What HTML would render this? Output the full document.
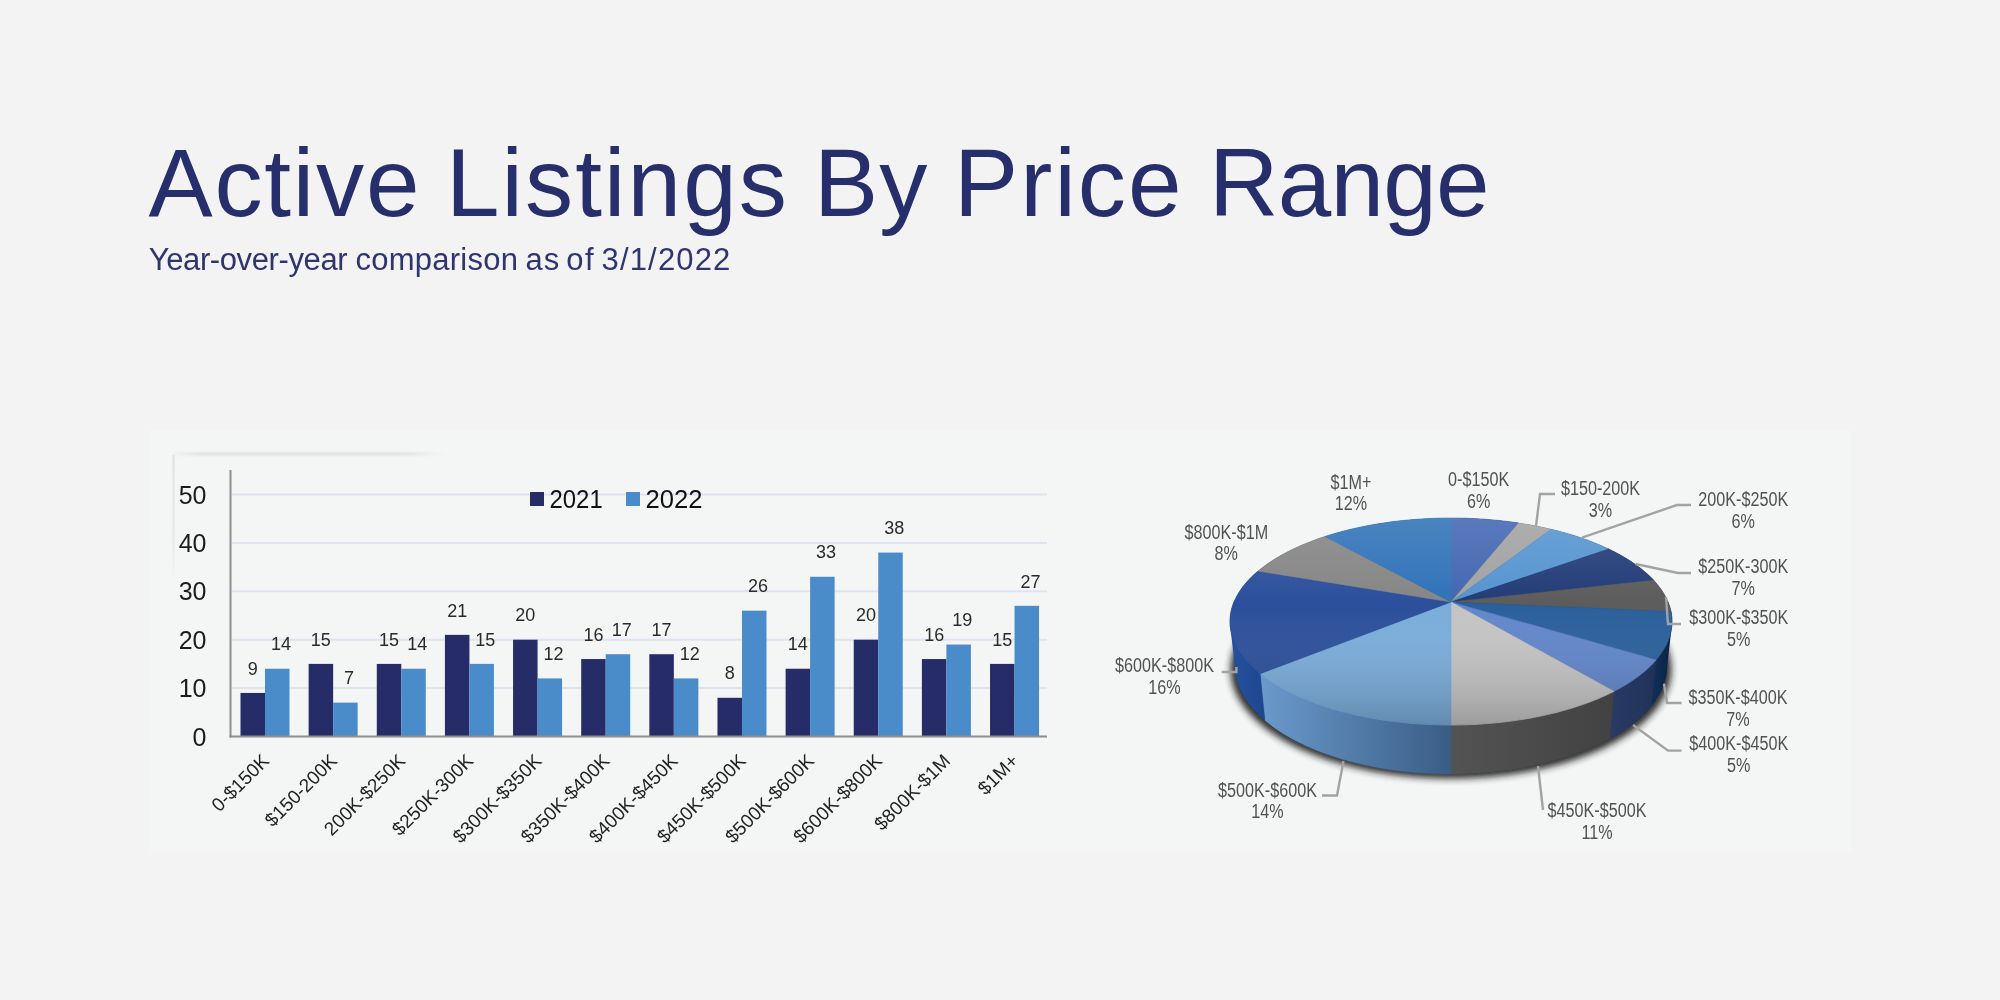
<!DOCTYPE html>
<html><head><meta charset="utf-8"><title>Active Listings By Price Range</title>
<style>
html,body{margin:0;padding:0;background:#f3f3f3;}
body{width:2000px;height:1000px;overflow:hidden;position:relative;font-family:'Liberation Sans', sans-serif;}
svg{position:absolute;left:0;top:0;will-change:transform;}
</style></head><body>
<svg width="2000" height="1000" viewBox="0 0 2000 1000" font-family="'Liberation Sans', sans-serif">
<defs>
<filter id="blur4" x="-20%" y="-20%" width="140%" height="140%"><feGaussianBlur stdDeviation="3.5"/></filter>
<filter id="blur1" x="-20%" y="-20%" width="140%" height="140%"><feGaussianBlur stdDeviation="1"/></filter>
<filter id="blur2" x="-20%" y="-20%" width="140%" height="140%"><feGaussianBlur stdDeviation="2"/></filter>
<linearGradient id="topshade" gradientUnits="userSpaceOnUse" x1="0" y1="518" x2="0" y2="725">
<stop offset="0" stop-color="#ffffff" stop-opacity="0.13"/>
<stop offset="0.42" stop-color="#ffffff" stop-opacity="0"/>
<stop offset="1" stop-color="#000000" stop-opacity="0.2"/>
</linearGradient>
</defs>
<rect x="0" y="0" width="2000" height="1000" fill="#f3f3f3"/>

<rect x="150" y="430" width="1701" height="422" fill="#f4f5f5"/>
<linearGradient id="tsh" x1="0" y1="0" x2="1" y2="0"><stop offset="0" stop-color="#dfe0e0" stop-opacity="0.3"/><stop offset="0.1" stop-color="#dfe0e0"/><stop offset="0.85" stop-color="#dfe0e0"/><stop offset="1" stop-color="#dfe0e0" stop-opacity="0"/></linearGradient>
<linearGradient id="lsh" x1="0" y1="0" x2="0" y2="1"><stop offset="0" stop-color="#dfe0e0"/><stop offset="0.7" stop-color="#e6e7e7"/><stop offset="1" stop-color="#eeefef" stop-opacity="0"/></linearGradient>
<rect x="174" y="452.5" width="272" height="3" fill="url(#tsh)" filter="url(#blur1)"/>
<rect x="172.5" y="455" width="2" height="130" fill="url(#lsh)"/>
<rect x="174.5" y="455.5" width="600" height="400" fill="#f5f6f6" opacity="0.0"/>
<text x="148.5" y="216" font-size="96.2" fill="#262e6b" letter-spacing="1.8">Active</text>
<text x="446" y="216" font-size="96.2" fill="#262e6b" letter-spacing="2.1">Listings</text>
<text x="814" y="216" font-size="96.2" fill="#262e6b" letter-spacing="1.1">By</text>
<text x="954" y="216" font-size="96.2" fill="#262e6b" letter-spacing="2.1">Price</text>
<text x="1209" y="216" font-size="96.2" fill="#262e6b" letter-spacing="-0.75">Range</text>
<text x="148.75" y="269.5" font-size="31" fill="#2e3570" letter-spacing="-0.39">Year-over-year</text>
<text x="355.5" y="269.5" font-size="31" fill="#2e3570" letter-spacing="0.24">comparison</text>
<text x="525.5" y="269.5" font-size="31" fill="#2e3570" letter-spacing="1.07">as</text>
<text x="566.2" y="269.5" font-size="31" fill="#2e3570" letter-spacing="1.57">of</text>
<text x="601.5" y="269.5" font-size="31" fill="#2e3570" letter-spacing="1.17">3/1/2022</text>
<line x1="231.5" y1="688.1" x2="1047" y2="688.1" stroke="#dfe3ee" stroke-width="2"/>
<line x1="231.5" y1="639.7" x2="1047" y2="639.7" stroke="#dfe3ee" stroke-width="2"/>
<line x1="231.5" y1="591.3" x2="1047" y2="591.3" stroke="#dfe3ee" stroke-width="2"/>
<line x1="231.5" y1="542.9" x2="1047" y2="542.9" stroke="#dfe3ee" stroke-width="2"/>
<line x1="231.5" y1="494.5" x2="1047" y2="494.5" stroke="#dfe3ee" stroke-width="2"/>
<rect x="240.50" y="692.94" width="24.5" height="43.56" fill="#252c68"/>
<rect x="265.00" y="668.74" width="24.5" height="67.76" fill="#4a8bc9"/>
<text x="252.75" y="674.64" font-size="18" fill="#2a2a2a" text-anchor="middle">9</text>
<text x="280.95" y="650.44" font-size="18" fill="#2a2a2a" text-anchor="middle">14</text>
<rect x="308.64" y="663.90" width="24.5" height="72.60" fill="#252c68"/>
<rect x="333.14" y="702.62" width="24.5" height="33.88" fill="#4a8bc9"/>
<text x="320.89" y="645.60" font-size="18" fill="#2a2a2a" text-anchor="middle">15</text>
<text x="349.09" y="684.32" font-size="18" fill="#2a2a2a" text-anchor="middle">7</text>
<rect x="376.78" y="663.90" width="24.5" height="72.60" fill="#252c68"/>
<rect x="401.28" y="668.74" width="24.5" height="67.76" fill="#4a8bc9"/>
<text x="389.03" y="645.60" font-size="18" fill="#2a2a2a" text-anchor="middle">15</text>
<text x="417.23" y="650.44" font-size="18" fill="#2a2a2a" text-anchor="middle">14</text>
<rect x="444.92" y="634.86" width="24.5" height="101.64" fill="#252c68"/>
<rect x="469.42" y="663.90" width="24.5" height="72.60" fill="#4a8bc9"/>
<text x="457.17" y="616.56" font-size="18" fill="#2a2a2a" text-anchor="middle">21</text>
<text x="485.37" y="645.60" font-size="18" fill="#2a2a2a" text-anchor="middle">15</text>
<rect x="513.06" y="639.70" width="24.5" height="96.80" fill="#252c68"/>
<rect x="537.56" y="678.42" width="24.5" height="58.08" fill="#4a8bc9"/>
<text x="525.31" y="621.40" font-size="18" fill="#2a2a2a" text-anchor="middle">20</text>
<text x="553.51" y="660.12" font-size="18" fill="#2a2a2a" text-anchor="middle">12</text>
<rect x="581.20" y="659.06" width="24.5" height="77.44" fill="#252c68"/>
<rect x="605.70" y="654.22" width="24.5" height="82.28" fill="#4a8bc9"/>
<text x="593.45" y="640.76" font-size="18" fill="#2a2a2a" text-anchor="middle">16</text>
<text x="621.65" y="635.92" font-size="18" fill="#2a2a2a" text-anchor="middle">17</text>
<rect x="649.34" y="654.22" width="24.5" height="82.28" fill="#252c68"/>
<rect x="673.84" y="678.42" width="24.5" height="58.08" fill="#4a8bc9"/>
<text x="661.59" y="635.92" font-size="18" fill="#2a2a2a" text-anchor="middle">17</text>
<text x="689.79" y="660.12" font-size="18" fill="#2a2a2a" text-anchor="middle">12</text>
<rect x="717.48" y="697.78" width="24.5" height="38.72" fill="#252c68"/>
<rect x="741.98" y="610.66" width="24.5" height="125.84" fill="#4a8bc9"/>
<text x="729.73" y="679.48" font-size="18" fill="#2a2a2a" text-anchor="middle">8</text>
<text x="757.93" y="592.36" font-size="18" fill="#2a2a2a" text-anchor="middle">26</text>
<rect x="785.62" y="668.74" width="24.5" height="67.76" fill="#252c68"/>
<rect x="810.12" y="576.78" width="24.5" height="159.72" fill="#4a8bc9"/>
<text x="797.87" y="650.44" font-size="18" fill="#2a2a2a" text-anchor="middle">14</text>
<text x="826.07" y="558.48" font-size="18" fill="#2a2a2a" text-anchor="middle">33</text>
<rect x="853.76" y="639.70" width="24.5" height="96.80" fill="#252c68"/>
<rect x="878.26" y="552.58" width="24.5" height="183.92" fill="#4a8bc9"/>
<text x="866.01" y="621.40" font-size="18" fill="#2a2a2a" text-anchor="middle">20</text>
<text x="894.21" y="534.28" font-size="18" fill="#2a2a2a" text-anchor="middle">38</text>
<rect x="921.90" y="659.06" width="24.5" height="77.44" fill="#252c68"/>
<rect x="946.40" y="644.54" width="24.5" height="91.96" fill="#4a8bc9"/>
<text x="934.15" y="640.76" font-size="18" fill="#2a2a2a" text-anchor="middle">16</text>
<text x="962.35" y="626.24" font-size="18" fill="#2a2a2a" text-anchor="middle">19</text>
<rect x="990.04" y="663.90" width="24.5" height="72.60" fill="#252c68"/>
<rect x="1014.54" y="605.82" width="24.5" height="130.68" fill="#4a8bc9"/>
<text x="1002.29" y="645.60" font-size="18" fill="#2a2a2a" text-anchor="middle">15</text>
<text x="1030.49" y="587.52" font-size="18" fill="#2a2a2a" text-anchor="middle">27</text>
<line x1="230.5" y1="470" x2="230.5" y2="737.5" stroke="#8e8e8e" stroke-width="2"/>
<line x1="229.5" y1="736.5" x2="1047" y2="736.5" stroke="#8e8e8e" stroke-width="2"/>
<text x="206.5" y="745.5" font-size="25" fill="#1c1c1c" text-anchor="end">0</text>
<text x="206.5" y="697.1" font-size="25" fill="#1c1c1c" text-anchor="end">10</text>
<text x="206.5" y="648.7" font-size="25" fill="#1c1c1c" text-anchor="end">20</text>
<text x="206.5" y="600.3" font-size="25" fill="#1c1c1c" text-anchor="end">30</text>
<text x="206.5" y="551.9" font-size="25" fill="#1c1c1c" text-anchor="end">40</text>
<text x="206.5" y="503.5" font-size="25" fill="#1c1c1c" text-anchor="end">50</text>
<rect x="530" y="492" width="14" height="14" fill="#252c68"/>
<g transform="translate(549.5,507.8) scale(0.92,1)"><text x="0" y="0" font-size="26" fill="#111">2021</text></g>
<rect x="626" y="492" width="14" height="14" fill="#4a8bc9"/>
<g transform="translate(645.5,507.8) scale(0.985,1)"><text x="0" y="0" font-size="26" fill="#111">2022</text></g>
<text transform="translate(270.1,762) rotate(-45)" font-size="19" fill="#222" text-anchor="end">0-$150K</text>
<text transform="translate(338.2,762) rotate(-45)" font-size="19" fill="#222" text-anchor="end">$150-200K</text>
<text transform="translate(406.4,762) rotate(-45)" font-size="19" fill="#222" text-anchor="end">200K-$250K</text>
<text transform="translate(474.5,762) rotate(-45)" font-size="19" fill="#222" text-anchor="end">$250K-300K</text>
<text transform="translate(542.6,762) rotate(-45)" font-size="19" fill="#222" text-anchor="end">$300K-$350K</text>
<text transform="translate(610.8,762) rotate(-45)" font-size="19" fill="#222" text-anchor="end">$350K-$400K</text>
<text transform="translate(678.9,762) rotate(-45)" font-size="19" fill="#222" text-anchor="end">$400K-$450K</text>
<text transform="translate(747.0,762) rotate(-45)" font-size="19" fill="#222" text-anchor="end">$450K-$500K</text>
<text transform="translate(815.2,762) rotate(-45)" font-size="19" fill="#222" text-anchor="end">$500K-$600K</text>
<text transform="translate(883.3,762) rotate(-45)" font-size="19" fill="#222" text-anchor="end">$600K-$800K</text>
<text transform="translate(951.5,762) rotate(-45)" font-size="19" fill="#222" text-anchor="end">$800K-$1M</text>
<text transform="translate(1019.6,762) rotate(-45)" font-size="19" fill="#222" text-anchor="end">$1M+</text>
<polygon points="1451.00,560.04 1452.60,560.05 1454.19,560.06 1455.79,560.07 1457.38,560.09 1458.98,560.12 1460.57,560.15 1462.17,560.18 1463.76,560.23 1465.35,560.28 1466.95,560.33 1468.54,560.39 1470.13,560.46 1471.72,560.53 1473.31,560.61 1474.90,560.69 1476.49,560.78 1478.07,560.87 1479.66,560.97 1481.24,561.08 1482.83,561.19 1484.41,561.31 1485.99,561.43 1487.57,561.56 1489.15,561.69 1490.72,561.83 1492.30,561.98 1493.87,562.13 1495.44,562.29 1497.01,562.45 1498.58,562.62 1500.14,562.80 1501.71,562.98 1503.27,563.16 1504.83,563.35 1506.38,563.55 1507.94,563.75 1509.49,563.96 1511.04,564.18 1512.59,564.40 1514.13,564.62 1515.67,564.85 1517.21,565.09 1518.75,565.34 1520.28,565.58 1521.81,565.84 1523.34,566.10 1524.87,566.36 1526.39,566.64 1527.91,566.91 1529.42,567.20 1530.93,567.48 1532.44,567.78 1533.95,568.08 1535.45,568.38 1536.94,568.70 1538.44,569.01 1539.93,569.33 1541.41,569.66 1542.90,570.00 1544.37,570.34 1545.85,570.68 1547.32,571.03 1548.78,571.39 1550.25,571.75 1551.70,572.12 1553.16,572.49 1554.60,572.87 1556.05,573.26 1557.49,573.65 1558.92,574.04 1560.35,574.44 1561.77,574.85 1563.19,575.26 1564.61,575.68 1566.01,576.10 1567.42,576.53 1568.82,576.97 1570.21,577.41 1571.60,577.86 1572.98,578.31 1574.36,578.76 1575.73,579.23 1577.09,579.69 1578.45,580.17 1579.80,580.65 1581.15,581.13 1582.49,581.62 1583.82,582.12 1585.15,582.62 1586.47,583.13 1587.79,583.64 1589.10,584.16 1590.40,584.68 1591.70,585.21 1592.98,585.74 1594.27,586.28 1595.54,586.83 1596.81,587.38 1598.07,587.93 1599.32,588.49 1600.57,589.06 1601.81,589.63 1603.04,590.21 1604.26,590.79 1605.48,591.38 1606.68,591.97 1607.88,592.57 1609.08,593.18 1610.26,593.78 1611.43,594.40 1612.60,595.02 1613.76,595.64 1614.91,596.27 1616.05,596.91 1617.19,597.55 1618.31,598.19 1619.43,598.84 1620.53,599.50 1621.63,600.16 1622.72,600.83 1623.80,601.50 1624.87,602.17 1625.93,602.85 1626.98,603.54 1628.03,604.23 1629.06,604.93 1630.08,605.63 1631.09,606.33 1632.09,607.05 1633.09,607.76 1634.07,608.48 1635.04,609.21 1636.00,609.94 1636.95,610.67 1637.89,611.41 1638.82,612.16 1639.74,612.91 1640.65,613.66 1641.55,614.42 1642.43,615.18 1643.31,615.95 1644.17,616.72 1645.02,617.50 1645.86,618.28 1646.69,619.07 1647.51,619.86 1648.31,620.65 1649.11,621.45 1649.89,622.26 1650.66,623.06 1651.41,623.88 1652.16,624.69 1652.89,625.51 1653.61,626.34 1654.32,627.17 1655.01,628.00 1655.69,628.84 1656.36,629.68 1657.02,630.52 1657.66,631.37 1658.29,632.23 1658.90,633.08 1659.50,633.95 1660.09,634.81 1660.66,635.68 1661.23,636.55 1661.77,637.43 1662.30,638.31 1662.82,639.19 1663.33,640.08 1663.82,640.97 1664.29,641.86 1664.75,642.76 1665.20,643.66 1665.63,644.56 1666.05,645.47 1666.45,646.38 1666.83,647.29 1667.21,648.21 1667.56,649.13 1667.90,650.05 1668.23,650.97 1668.54,651.90 1668.83,652.83 1669.11,653.77 1669.37,654.70 1669.62,655.64 1669.85,656.58 1670.06,657.53 1670.26,658.47 1670.44,659.42 1670.61,660.37 1670.76,661.32 1670.89,662.28 1671.00,663.24 1671.10,664.20 1671.18,665.16 1671.25,666.12 1671.29,667.09 1671.32,668.05 1671.34,669.02 1671.33,669.99 1671.31,670.96 1671.27,671.94 1671.21,672.91 1671.14,673.89 1671.05,674.86 1670.94,675.84 1670.81,676.82 1670.66,677.80 1670.50,678.78 1670.32,679.76 1670.12,680.75 1669.90,681.73 1669.66,682.71 1669.40,683.70 1669.13,684.68 1668.84,685.67 1668.53,686.65 1668.19,687.64 1667.85,688.62 1667.48,689.61 1667.09,690.60 1666.69,691.58 1666.26,692.56 1665.82,693.55 1665.36,694.53 1664.87,695.52 1664.37,696.50 1663.85,697.48 1663.31,698.46 1662.76,699.44 1662.18,700.42 1661.58,701.40 1660.96,702.37 1660.33,703.35 1659.67,704.32 1659.00,705.30 1658.30,706.27 1657.59,707.23 1656.86,708.20 1656.10,709.16 1655.33,710.13 1654.54,711.09 1653.72,712.04 1652.89,713.00 1652.04,713.95 1651.17,714.90 1650.28,715.85 1649.37,716.80 1648.44,717.74 1647.49,718.68 1646.52,719.61 1645.53,720.54 1644.53,721.47 1643.50,722.40 1642.45,723.32 1641.39,724.23 1640.30,725.15 1639.19,726.06 1638.07,726.96 1636.93,727.86 1635.76,728.76 1634.58,729.65 1633.38,730.54 1632.16,731.43 1630.92,732.30 1629.66,733.18 1628.38,734.05 1627.08,734.91 1625.77,735.77 1624.43,736.62 1623.08,737.47 1621.71,738.31 1620.32,739.15 1618.91,739.98 1617.48,740.80 1616.04,741.62 1614.57,742.43 1613.09,743.24 1611.59,744.03 1610.08,744.83 1608.54,745.61 1606.99,746.39 1605.42,747.17 1603.83,747.93 1602.22,748.69 1600.60,749.44 1598.96,750.18 1597.31,750.92 1595.63,751.65 1593.94,752.37 1592.24,753.08 1590.52,753.79 1588.78,754.49 1587.02,755.18 1585.25,755.86 1583.47,756.53 1581.67,757.20 1579.85,757.85 1578.02,758.50 1576.17,759.14 1574.31,759.77 1572.43,760.39 1570.54,761.00 1568.64,761.60 1566.72,762.20 1564.79,762.78 1562.84,763.36 1560.88,763.92 1558.91,764.48 1556.92,765.03 1554.92,765.56 1552.91,766.09 1550.89,766.61 1548.85,767.11 1546.80,767.61 1544.74,768.10 1542.67,768.57 1540.59,769.04 1538.49,769.49 1536.39,769.94 1534.27,770.37 1532.15,770.80 1530.01,771.21 1527.87,771.61 1525.71,772.00 1523.55,772.38 1521.37,772.75 1519.19,773.11 1517.00,773.46 1514.80,773.79 1512.60,774.12 1510.38,774.43 1508.16,774.73 1505.93,775.02 1503.69,775.30 1501.45,775.57 1499.20,775.83 1496.95,776.07 1494.69,776.30 1492.42,776.53 1490.15,776.73 1487.87,776.93 1485.59,777.12 1483.30,777.29 1481.01,777.45 1478.72,777.60 1476.42,777.74 1474.12,777.87 1471.82,777.98 1469.51,778.09 1467.20,778.18 1464.89,778.26 1462.58,778.32 1460.26,778.38 1457.95,778.42 1455.63,778.45 1453.32,778.47 1451.00,778.47 1448.68,778.47 1446.37,778.45 1444.05,778.42 1441.74,778.38 1439.42,778.32 1437.11,778.26 1434.80,778.18 1432.49,778.09 1430.18,777.98 1427.88,777.87 1425.58,777.74 1423.28,777.60 1420.99,777.45 1418.70,777.29 1416.41,777.12 1414.13,776.93 1411.85,776.73 1409.58,776.53 1407.31,776.30 1405.05,776.07 1402.80,775.83 1400.55,775.57 1398.31,775.30 1396.07,775.02 1393.84,774.73 1391.62,774.43 1389.40,774.12 1387.20,773.79 1385.00,773.46 1382.81,773.11 1380.63,772.75 1378.45,772.38 1376.29,772.00 1374.13,771.61 1371.99,771.21 1369.85,770.80 1367.73,770.37 1365.61,769.94 1363.51,769.49 1361.41,769.04 1359.33,768.57 1357.26,768.10 1355.20,767.61 1353.15,767.11 1351.11,766.61 1349.09,766.09 1347.08,765.56 1345.08,765.03 1343.09,764.48 1341.12,763.92 1339.16,763.36 1337.21,762.78 1335.28,762.20 1333.36,761.60 1331.46,761.00 1329.57,760.39 1327.69,759.77 1325.83,759.14 1323.98,758.50 1322.15,757.85 1320.33,757.20 1318.53,756.53 1316.75,755.86 1314.98,755.18 1313.22,754.49 1311.48,753.79 1309.76,753.08 1308.06,752.37 1306.37,751.65 1304.69,750.92 1303.04,750.18 1301.40,749.44 1299.78,748.69 1298.17,747.93 1296.58,747.17 1295.01,746.39 1293.46,745.61 1291.92,744.83 1290.41,744.03 1288.91,743.24 1287.43,742.43 1285.96,741.62 1284.52,740.80 1283.09,739.98 1281.68,739.15 1280.29,738.31 1278.92,737.47 1277.57,736.62 1276.23,735.77 1274.92,734.91 1273.62,734.05 1272.34,733.18 1271.08,732.30 1269.84,731.43 1268.62,730.54 1267.42,729.65 1266.24,728.76 1265.07,727.86 1263.93,726.96 1262.81,726.06 1261.70,725.15 1260.61,724.23 1259.55,723.32 1258.50,722.40 1257.47,721.47 1256.47,720.54 1255.48,719.61 1254.51,718.68 1253.56,717.74 1252.63,716.80 1251.72,715.85 1250.83,714.90 1249.96,713.95 1249.11,713.00 1248.28,712.04 1247.46,711.09 1246.67,710.13 1245.90,709.16 1245.14,708.20 1244.41,707.23 1243.70,706.27 1243.00,705.30 1242.33,704.32 1241.67,703.35 1241.04,702.37 1240.42,701.40 1239.82,700.42 1239.24,699.44 1238.69,698.46 1238.15,697.48 1237.63,696.50 1237.13,695.52 1236.64,694.53 1236.18,693.55 1235.74,692.56 1235.31,691.58 1234.91,690.60 1234.52,689.61 1234.15,688.62 1233.81,687.64 1233.47,686.65 1233.16,685.67 1232.87,684.68 1232.60,683.70 1232.34,682.71 1232.10,681.73 1231.88,680.75 1231.68,679.76 1231.50,678.78 1231.34,677.80 1231.19,676.82 1231.06,675.84 1230.95,674.86 1230.86,673.89 1230.79,672.91 1230.73,671.94 1230.69,670.96 1230.67,669.99 1230.66,669.02 1230.68,668.05 1230.71,667.09 1230.75,666.12 1230.82,665.16 1230.90,664.20 1231.00,663.24 1231.11,662.28 1231.24,661.32 1231.39,660.37 1231.56,659.42 1231.74,658.47 1231.94,657.53 1232.15,656.58 1232.38,655.64 1232.63,654.70 1232.89,653.77 1233.17,652.83 1233.46,651.90 1233.77,650.97 1234.10,650.05 1234.44,649.13 1234.79,648.21 1235.17,647.29 1235.55,646.38 1235.95,645.47 1236.37,644.56 1236.80,643.66 1237.25,642.76 1237.71,641.86 1238.18,640.97 1238.67,640.08 1239.18,639.19 1239.70,638.31 1240.23,637.43 1240.77,636.55 1241.34,635.68 1241.91,634.81 1242.50,633.95 1243.10,633.08 1243.71,632.23 1244.34,631.37 1244.98,630.52 1245.64,629.68 1246.31,628.84 1246.99,628.00 1247.68,627.17 1248.39,626.34 1249.11,625.51 1249.84,624.69 1250.59,623.88 1251.34,623.06 1252.11,622.26 1252.89,621.45 1253.69,620.65 1254.49,619.86 1255.31,619.07 1256.14,618.28 1256.98,617.50 1257.83,616.72 1258.69,615.95 1259.57,615.18 1260.45,614.42 1261.35,613.66 1262.26,612.91 1263.18,612.16 1264.11,611.41 1265.05,610.67 1266.00,609.94 1266.96,609.21 1267.93,608.48 1268.91,607.76 1269.91,607.05 1270.91,606.33 1271.92,605.63 1272.94,604.93 1273.97,604.23 1275.02,603.54 1276.07,602.85 1277.13,602.17 1278.20,601.50 1279.28,600.83 1280.37,600.16 1281.47,599.50 1282.57,598.84 1283.69,598.19 1284.81,597.55 1285.95,596.91 1287.09,596.27 1288.24,595.64 1289.40,595.02 1290.57,594.40 1291.74,593.78 1292.92,593.18 1294.12,592.57 1295.32,591.97 1296.52,591.38 1297.74,590.79 1298.96,590.21 1300.19,589.63 1301.43,589.06 1302.68,588.49 1303.93,587.93 1305.19,587.38 1306.46,586.83 1307.73,586.28 1309.02,585.74 1310.30,585.21 1311.60,584.68 1312.90,584.16 1314.21,583.64 1315.53,583.13 1316.85,582.62 1318.18,582.12 1319.51,581.62 1320.85,581.13 1322.20,580.65 1323.55,580.17 1324.91,579.69 1326.27,579.23 1327.64,578.76 1329.02,578.31 1330.40,577.86 1331.79,577.41 1333.18,576.97 1334.58,576.53 1335.99,576.10 1337.39,575.68 1338.81,575.26 1340.23,574.85 1341.65,574.44 1343.08,574.04 1344.51,573.65 1345.95,573.26 1347.40,572.87 1348.84,572.49 1350.30,572.12 1351.75,571.75 1353.22,571.39 1354.68,571.03 1356.15,570.68 1357.63,570.34 1359.10,570.00 1360.59,569.66 1362.07,569.33 1363.56,569.01 1365.06,568.70 1366.55,568.38 1368.05,568.08 1369.56,567.78 1371.07,567.48 1372.58,567.20 1374.09,566.91 1375.61,566.64 1377.13,566.36 1378.66,566.10 1380.19,565.84 1381.72,565.58 1383.25,565.34 1384.79,565.09 1386.33,564.85 1387.87,564.62 1389.41,564.40 1390.96,564.18 1392.51,563.96 1394.06,563.75 1395.62,563.55 1397.17,563.35 1398.73,563.16 1400.29,562.98 1401.86,562.80 1403.42,562.62 1404.99,562.45 1406.56,562.29 1408.13,562.13 1409.70,561.98 1411.28,561.83 1412.85,561.69 1414.43,561.56 1416.01,561.43 1417.59,561.31 1419.17,561.19 1420.76,561.08 1422.34,560.97 1423.93,560.87 1425.51,560.78 1427.10,560.69 1428.69,560.61 1430.28,560.53 1431.87,560.46 1433.46,560.39 1435.05,560.33 1436.65,560.28 1438.24,560.23 1439.83,560.18 1441.43,560.15 1443.02,560.12 1444.62,560.09 1446.21,560.07 1447.81,560.06 1449.40,560.05 1451.00,560.04" fill="#1e1e1e" filter="url(#blur4)" opacity="0.92"/>
<linearGradient id="hullg" gradientUnits="userSpaceOnUse" x1="1200" y1="0" x2="1700" y2="0"><stop offset="0.5" stop-color="#24509c"/><stop offset="0.5" stop-color="#0b2243"/></linearGradient>
<polygon points="1230.04,621.75 1230.05,620.83 1230.07,619.92 1230.11,619.00 1230.16,618.09 1230.24,617.17 1230.33,616.26 1230.43,615.35 1230.56,614.45 1230.70,613.54 1230.85,612.64 1231.03,611.74 1231.22,610.84 1231.42,609.95 1231.65,609.05 1231.88,608.16 1232.14,607.28 1232.41,606.39 1232.70,605.51 1233.00,604.63 1233.32,603.75 1233.65,602.87 1234.00,602.00 1234.36,601.13 1234.74,600.26 1235.14,599.40 1235.55,598.54 1235.97,597.68 1236.41,596.83 1236.87,595.98 1237.34,595.13 1237.82,594.28 1238.32,593.44 1238.83,592.60 1239.36,591.77 1239.90,590.94 1240.45,590.11 1241.02,589.29 1241.60,588.47 1242.20,587.65 1242.81,586.83 1243.43,586.02 1244.07,585.22 1244.72,584.42 1245.38,583.62 1246.05,582.82 1246.74,582.03 1247.44,581.25 1248.16,580.46 1248.88,579.68 1249.62,578.91 1251.14,577.37 1252.70,575.85 1253.50,575.09 1254.32,574.34 1255.14,573.60 1255.97,572.86 1256.82,572.12 1257.68,571.39 1258.55,570.66 1259.43,569.93 1260.32,569.21 1262.14,567.79 1263.06,567.08 1264.00,566.38 1264.95,565.68 1265.90,564.99 1266.87,564.30 1267.85,563.61 1268.84,562.93 1269.83,562.26 1270.84,561.59 1271.86,560.92 1272.89,560.26 1273.92,559.61 1274.97,558.95 1276.03,558.31 1277.09,557.67 1278.17,557.03 1279.25,556.40 1280.34,555.77 1282.56,554.53 1283.68,553.91 1285.94,552.70 1288.25,551.51 1289.41,550.92 1290.58,550.34 1291.76,549.76 1294.14,548.62 1295.34,548.06 1297.77,546.94 1299.00,546.39 1300.23,545.85 1301.48,545.31 1302.72,544.78 1303.98,544.25 1305.24,543.73 1306.51,543.21 1307.79,542.70 1309.08,542.19 1310.37,541.69 1311.66,541.19 1314.28,540.21 1315.60,539.73 1316.92,539.25 1318.25,538.78 1319.59,538.31 1320.93,537.85 1322.28,537.39 1323.63,536.94 1324.99,536.50 1326.36,536.06 1327.73,535.62 1329.11,535.19 1330.49,534.77 1333.27,533.93 1334.67,533.52 1336.08,533.12 1337.49,532.72 1338.90,532.33 1340.32,531.94 1341.74,531.56 1343.17,531.18 1344.61,530.81 1346.05,530.44 1347.49,530.08 1348.94,529.72 1350.39,529.37 1351.85,529.02 1353.31,528.68 1356.25,528.02 1357.72,527.69 1360.68,527.06 1362.16,526.75 1363.65,526.45 1365.15,526.15 1366.64,525.86 1368.14,525.57 1369.65,525.29 1371.16,525.01 1372.67,524.74 1374.18,524.48 1377.22,523.96 1378.74,523.71 1383.33,522.99 1386.40,522.54 1387.94,522.32 1389.49,522.11 1392.58,521.70 1394.13,521.51 1397.24,521.13 1398.80,520.95 1400.36,520.78 1403.48,520.44 1405.05,520.28 1406.62,520.13 1408.19,519.98 1411.33,519.70 1412.90,519.57 1414.48,519.44 1416.06,519.32 1420.80,518.99 1422.38,518.89 1423.96,518.80 1425.55,518.71 1427.13,518.63 1428.72,518.55 1431.90,518.41 1435.08,518.29 1438.26,518.19 1439.85,518.15 1443.03,518.09 1444.63,518.06 1447.81,518.03 1449.41,518.02 1452.59,518.02 1454.19,518.03 1457.37,518.06 1458.97,518.09 1462.15,518.15 1463.74,518.19 1466.92,518.29 1470.10,518.41 1473.28,518.55 1474.87,518.63 1476.45,518.71 1478.04,518.80 1479.62,518.89 1481.20,518.99 1485.94,519.32 1487.52,519.44 1489.10,519.57 1490.67,519.70 1493.81,519.98 1495.38,520.13 1496.95,520.28 1498.52,520.44 1501.64,520.78 1503.20,520.95 1504.76,521.13 1507.87,521.51 1509.42,521.70 1512.51,522.11 1514.06,522.32 1515.60,522.54 1518.67,522.99 1523.26,523.71 1524.78,523.96 1527.82,524.48 1529.33,524.74 1530.84,525.01 1532.35,525.29 1533.86,525.57 1535.36,525.86 1536.85,526.15 1538.35,526.45 1539.84,526.75 1541.32,527.06 1544.28,527.69 1545.75,528.02 1548.69,528.68 1550.15,529.02 1551.61,529.37 1553.06,529.72 1554.51,530.08 1555.95,530.44 1557.39,530.81 1558.83,531.18 1560.26,531.56 1561.68,531.94 1563.10,532.33 1564.51,532.72 1565.92,533.12 1567.33,533.52 1568.73,533.93 1571.51,534.77 1572.89,535.19 1574.27,535.62 1575.64,536.06 1577.01,536.50 1578.37,536.94 1579.72,537.39 1581.07,537.85 1582.41,538.31 1583.75,538.78 1585.08,539.25 1586.40,539.73 1587.72,540.21 1590.34,541.19 1591.63,541.69 1592.92,542.19 1594.21,542.70 1595.49,543.21 1596.76,543.73 1598.02,544.25 1599.28,544.78 1600.52,545.31 1601.77,545.85 1603.00,546.39 1604.23,546.94 1606.66,548.06 1607.86,548.62 1610.24,549.76 1611.42,550.34 1612.59,550.92 1613.75,551.51 1616.06,552.70 1618.32,553.91 1619.44,554.53 1621.66,555.77 1622.75,556.40 1623.83,557.03 1624.91,557.67 1625.97,558.31 1627.03,558.95 1628.08,559.61 1629.11,560.26 1630.14,560.92 1631.16,561.59 1632.17,562.26 1633.16,562.93 1634.15,563.61 1635.13,564.30 1636.10,564.99 1637.05,565.68 1638.00,566.38 1638.94,567.08 1639.86,567.79 1641.68,569.21 1642.57,569.93 1643.45,570.66 1644.32,571.39 1645.18,572.12 1646.03,572.86 1646.86,573.60 1647.68,574.34 1648.50,575.09 1649.30,575.85 1650.86,577.37 1652.38,578.91 1653.12,579.68 1653.84,580.46 1654.56,581.25 1655.26,582.03 1655.95,582.82 1656.62,583.62 1657.28,584.42 1657.93,585.22 1658.57,586.02 1659.19,586.83 1659.80,587.65 1660.40,588.47 1660.98,589.29 1661.55,590.11 1662.10,590.94 1662.64,591.77 1663.17,592.60 1663.68,593.44 1664.18,594.28 1664.66,595.13 1665.13,595.98 1665.59,596.83 1666.03,597.68 1666.45,598.54 1666.86,599.40 1667.26,600.26 1667.64,601.13 1668.00,602.00 1668.35,602.87 1668.68,603.75 1669.00,604.63 1669.30,605.51 1669.59,606.39 1669.86,607.28 1670.12,608.16 1670.35,609.05 1670.58,609.95 1670.78,610.84 1670.97,611.74 1671.15,612.64 1671.30,613.54 1671.44,614.45 1671.57,615.35 1671.67,616.26 1671.76,617.17 1671.84,618.09 1671.89,619.00 1671.93,619.92 1671.95,620.83 1671.96,621.75 1671.94,622.67 1671.91,623.60 1671.86,624.52 1671.80,625.44 1671.71,626.37 1671.61,627.30 1666.62,671.34 1666.50,672.32 1666.36,673.30 1666.19,674.28 1666.02,675.26 1665.82,676.25 1665.60,677.23 1665.37,678.21 1665.12,679.20 1664.85,680.18 1664.57,681.17 1664.26,682.15 1663.94,683.14 1663.59,684.12 1663.23,685.11 1662.85,686.10 1662.46,687.08 1662.04,688.06 1661.61,689.05 1661.15,690.03 1660.68,691.02 1660.19,692.00 1659.68,692.98 1659.15,693.96 1658.60,694.94 1658.04,695.92 1657.45,696.90 1656.85,697.87 1656.22,698.85 1655.58,699.82 1654.92,700.80 1654.24,701.77 1653.54,702.73 1652.82,703.70 1652.08,704.66 1651.32,705.63 1650.55,706.59 1649.75,707.54 1648.93,708.50 1648.10,709.45 1647.25,710.40 1646.37,711.35 1645.48,712.30 1644.57,713.24 1643.64,714.18 1642.69,715.11 1641.72,716.04 1640.73,716.97 1639.72,717.90 1638.70,718.82 1636.59,720.65 1635.50,721.56 1634.40,722.46 1633.28,723.36 1632.14,724.26 1630.98,725.15 1629.80,726.04 1628.61,726.93 1626.16,728.68 1624.90,729.55 1623.63,730.41 1622.34,731.27 1621.03,732.12 1619.71,732.97 1618.36,733.81 1617.00,734.65 1615.62,735.48 1614.22,736.30 1612.80,737.12 1611.37,737.93 1609.91,738.74 1606.96,740.33 1605.45,741.11 1603.93,741.89 1602.39,742.67 1600.83,743.43 1599.26,744.19 1597.67,744.94 1596.06,745.68 1594.44,746.42 1592.80,747.15 1591.14,747.87 1589.47,748.58 1587.78,749.29 1586.08,749.99 1584.36,750.68 1582.62,751.36 1580.87,752.03 1579.10,752.70 1577.32,753.35 1575.53,754.00 1573.72,754.64 1571.89,755.27 1570.05,755.89 1568.20,756.50 1566.33,757.10 1564.45,757.70 1562.56,758.28 1560.65,758.86 1558.73,759.42 1556.79,759.98 1554.84,760.53 1552.88,761.06 1550.91,761.59 1548.93,762.11 1546.93,762.61 1544.92,763.11 1542.90,763.60 1540.87,764.07 1538.83,764.54 1536.78,764.99 1534.71,765.44 1532.64,765.87 1530.56,766.30 1528.46,766.71 1526.36,767.11 1524.25,767.50 1522.12,767.88 1519.99,768.25 1517.86,768.61 1515.71,768.96 1511.39,769.62 1509.22,769.93 1507.04,770.23 1504.85,770.52 1502.66,770.80 1500.46,771.07 1498.26,771.33 1496.05,771.57 1491.61,772.03 1489.38,772.23 1487.15,772.43 1484.91,772.62 1482.67,772.79 1480.42,772.95 1478.17,773.10 1475.92,773.24 1473.67,773.37 1469.15,773.59 1466.88,773.68 1464.62,773.76 1462.35,773.82 1460.08,773.88 1457.81,773.92 1455.54,773.95 1453.27,773.97 1448.73,773.97 1446.46,773.95 1444.19,773.92 1441.92,773.88 1439.65,773.82 1437.38,773.76 1435.12,773.68 1432.85,773.59 1428.33,773.37 1426.08,773.24 1423.83,773.10 1421.58,772.95 1419.33,772.79 1417.09,772.62 1414.85,772.43 1412.62,772.23 1410.39,772.03 1405.95,771.57 1403.74,771.33 1401.54,771.07 1399.34,770.80 1397.15,770.52 1394.96,770.23 1392.78,769.93 1390.61,769.62 1386.29,768.96 1384.14,768.61 1382.01,768.25 1379.88,767.88 1377.75,767.50 1375.64,767.11 1373.54,766.71 1371.44,766.30 1369.36,765.87 1367.29,765.44 1365.22,764.99 1363.17,764.54 1361.13,764.07 1359.10,763.60 1357.08,763.11 1355.07,762.61 1353.07,762.11 1351.09,761.59 1349.12,761.06 1347.16,760.53 1345.21,759.98 1343.27,759.42 1341.35,758.86 1339.44,758.28 1337.55,757.70 1335.67,757.10 1333.80,756.50 1331.95,755.89 1330.11,755.27 1328.28,754.64 1326.47,754.00 1324.68,753.35 1322.90,752.70 1321.13,752.03 1319.38,751.36 1317.64,750.68 1315.92,749.99 1314.22,749.29 1312.53,748.58 1310.86,747.87 1309.20,747.15 1307.56,746.42 1305.94,745.68 1304.33,744.94 1302.74,744.19 1301.17,743.43 1299.61,742.67 1298.07,741.89 1296.55,741.11 1295.04,740.33 1292.09,738.74 1290.63,737.93 1289.20,737.12 1287.78,736.30 1286.38,735.48 1285.00,734.65 1283.64,733.81 1282.29,732.97 1280.97,732.12 1279.66,731.27 1278.37,730.41 1277.10,729.55 1275.84,728.68 1273.39,726.93 1272.20,726.04 1271.02,725.15 1269.86,724.26 1268.72,723.36 1267.60,722.46 1266.50,721.56 1265.41,720.65 1263.30,718.82 1262.28,717.90 1261.27,716.97 1260.28,716.04 1259.31,715.11 1258.36,714.18 1257.43,713.24 1256.52,712.30 1255.63,711.35 1254.75,710.40 1253.90,709.45 1253.07,708.50 1252.25,707.54 1251.45,706.59 1250.68,705.63 1249.92,704.66 1249.18,703.70 1248.46,702.73 1247.76,701.77 1247.08,700.80 1246.42,699.82 1245.78,698.85 1245.15,697.87 1244.55,696.90 1243.96,695.92 1243.40,694.94 1242.85,693.96 1242.32,692.98 1241.81,692.00 1241.32,691.02 1240.85,690.03 1240.39,689.05 1239.96,688.06 1239.54,687.08 1239.15,686.10 1238.77,685.11 1238.41,684.12 1238.06,683.14 1237.74,682.15 1237.43,681.17 1237.15,680.18 1236.88,679.20 1236.63,678.21 1236.40,677.23 1236.18,676.25 1235.98,675.26 1235.81,674.28 1235.64,673.30 1235.50,672.32 1235.38,671.34 1230.39,627.30 1230.29,626.37 1230.20,625.44 1230.14,624.52 1230.09,623.60 1230.06,622.67" fill="url(#hullg)"/>
<linearGradient id="sg4" gradientUnits="userSpaceOnUse" x1="1663.3" y1="0" x2="1670.9" y2="0"><stop offset="0" stop-color="#3a3a3a"/><stop offset="1" stop-color="#3a3a3a"/></linearGradient>
<polygon points="1668.00,602.00 1668.73,603.88 1669.39,605.78 1669.98,607.68 1670.49,609.60 1670.93,611.53 1666.10,654.70 1665.69,652.66 1665.20,650.63 1664.65,648.62 1664.02,646.62 1663.32,644.63" fill="url(#sg4)" stroke="url(#sg4)" stroke-width="0.4"/>
<linearGradient id="sg5" gradientUnits="userSpaceOnUse" x1="1651.3" y1="0" x2="1671.9" y2="0"><stop offset="0" stop-color="#10305a"/><stop offset="1" stop-color="#0b2243"/></linearGradient>
<polygon points="1670.93,611.53 1671.27,613.35 1671.54,615.17 1671.75,617.00 1671.88,618.83 1671.95,620.68 1671.95,622.53 1671.87,624.38 1671.72,626.24 1671.50,628.11 1671.21,629.98 1670.85,631.85 1670.41,633.73 1669.89,635.61 1669.30,637.49 1668.63,639.37 1667.89,641.25 1667.07,643.13 1666.17,645.01 1665.20,646.89 1664.15,648.76 1663.01,650.63 1661.80,652.50 1660.51,654.36 1659.14,656.22 1657.69,658.07 1656.17,659.91 1651.26,705.70 1652.77,703.76 1654.20,701.82 1655.55,699.86 1656.83,697.90 1658.03,695.94 1659.15,693.97 1660.19,691.99 1661.16,690.02 1662.05,688.04 1662.87,686.05 1663.61,684.07 1664.28,682.09 1664.87,680.11 1665.39,678.13 1665.84,676.15 1666.21,674.17 1666.52,672.20 1666.75,670.23 1666.91,668.27 1667.00,666.31 1667.02,664.35 1666.97,662.41 1666.85,660.47 1666.67,658.54 1666.42,656.62 1666.10,654.70" fill="url(#sg5)" stroke="url(#sg5)" stroke-width="0.4"/>
<linearGradient id="sg6" gradientUnits="userSpaceOnUse" x1="1609.9" y1="0" x2="1656.2" y2="0"><stop offset="0" stop-color="#293b66"/><stop offset="1" stop-color="#213259"/></linearGradient>
<polygon points="1656.17,659.91 1654.52,661.78 1652.80,663.64 1650.99,665.49 1649.10,667.33 1647.13,669.15 1645.07,670.96 1642.93,672.76 1640.70,674.55 1638.40,676.31 1636.01,678.06 1633.54,679.80 1630.99,681.51 1628.36,683.20 1625.65,684.88 1622.86,686.53 1619.99,688.16 1617.04,689.76 1614.01,691.35 1609.91,738.74 1612.87,737.08 1615.76,735.39 1618.57,733.68 1621.30,731.95 1623.96,730.19 1626.54,728.41 1629.04,726.61 1631.46,724.79 1633.80,722.95 1636.06,721.09 1638.25,719.22 1640.35,717.33 1642.37,715.42 1644.31,713.50 1646.17,711.57 1647.95,709.62 1649.65,707.67 1651.26,705.70" fill="url(#sg6)" stroke="url(#sg6)" stroke-width="0.4"/>
<linearGradient id="sg7" gradientUnits="userSpaceOnUse" x1="1451.0" y1="0" x2="1614.0" y2="0"><stop offset="0" stop-color="#535353"/><stop offset="1" stop-color="#424242"/></linearGradient>
<polygon points="1614.01,691.35 1610.99,692.86 1607.89,694.35 1604.72,695.82 1601.49,697.26 1598.18,698.67 1594.81,700.05 1591.37,701.41 1587.86,702.73 1584.29,704.02 1580.65,705.28 1576.96,706.51 1573.20,707.70 1569.39,708.86 1565.52,709.99 1561.59,711.07 1557.61,712.13 1553.58,713.14 1549.49,714.12 1545.36,715.06 1541.18,715.96 1536.96,716.82 1532.69,717.63 1528.39,718.41 1524.04,719.15 1519.66,719.84 1515.24,720.50 1510.79,721.11 1506.31,721.67 1501.80,722.20 1497.27,722.67 1492.71,723.11 1488.13,723.50 1483.53,723.84 1478.91,724.14 1474.28,724.39 1469.64,724.60 1464.99,724.76 1460.33,724.87 1455.67,724.94 1451.00,724.97 1451.00,773.97 1455.54,773.95 1460.08,773.88 1464.62,773.76 1469.15,773.59 1473.67,773.37 1478.17,773.10 1482.67,772.79 1487.15,772.43 1491.61,772.03 1496.05,771.57 1500.46,771.07 1504.85,770.52 1509.22,769.93 1513.55,769.29 1517.86,768.61 1522.12,767.88 1526.36,767.11 1530.56,766.30 1534.71,765.44 1538.83,764.54 1542.90,763.60 1546.93,762.61 1550.91,761.59 1554.84,760.53 1558.73,759.42 1562.56,758.28 1566.33,757.10 1570.05,755.89 1573.72,754.64 1577.32,753.35 1580.87,752.03 1584.36,750.68 1587.78,749.29 1591.14,747.87 1594.44,746.42 1597.67,744.94 1600.83,743.43 1603.93,741.89 1606.96,740.33 1609.91,738.74" fill="url(#sg7)" stroke="url(#sg7)" stroke-width="0.4"/>
<linearGradient id="sg8" gradientUnits="userSpaceOnUse" x1="1260.2" y1="0" x2="1451.0" y2="0"><stop offset="0" stop-color="#6a9acb"/><stop offset="1" stop-color="#3a5d86"/></linearGradient>
<polygon points="1451.00,724.97 1446.26,724.94 1441.53,724.87 1436.80,724.75 1432.07,724.59 1427.36,724.37 1422.66,724.11 1417.98,723.80 1413.31,723.45 1408.66,723.05 1404.04,722.60 1399.43,722.11 1394.86,721.57 1390.32,720.99 1385.81,720.36 1381.33,719.69 1376.89,718.97 1372.48,718.21 1368.12,717.41 1363.80,716.57 1359.52,715.68 1355.30,714.76 1351.12,713.79 1346.99,712.79 1342.91,711.74 1338.89,710.66 1334.93,709.54 1331.02,708.38 1327.17,707.19 1323.38,705.96 1319.66,704.70 1316.00,703.41 1312.41,702.08 1308.88,700.72 1305.42,699.33 1302.03,697.91 1298.71,696.47 1295.46,694.99 1292.29,693.49 1289.19,691.96 1286.16,690.40 1283.21,688.82 1280.34,687.22 1277.54,685.59 1274.82,683.94 1272.18,682.28 1269.62,680.59 1267.14,678.88 1264.74,677.16 1262.41,675.41 1260.17,673.66 1264.84,720.16 1267.04,722.00 1269.31,723.83 1271.67,725.65 1274.10,727.44 1276.61,729.21 1279.20,730.96 1281.86,732.69 1284.60,734.40 1287.41,736.08 1290.30,737.74 1293.26,739.38 1296.29,740.98 1299.40,742.56 1302.57,744.11 1305.81,745.63 1309.13,747.12 1312.50,748.57 1315.95,750.00 1319.46,751.39 1323.03,752.75 1326.67,754.07 1330.36,755.35 1334.12,756.60 1337.93,757.82 1341.80,758.99 1345.72,760.12 1349.69,761.22 1353.72,762.27 1357.79,763.28 1361.91,764.25 1366.08,765.18 1370.29,766.06 1374.54,766.90 1378.83,767.70 1383.16,768.45 1387.52,769.15 1391.91,769.81 1396.34,770.42 1400.79,770.98 1405.27,771.50 1409.78,771.97 1414.30,772.38 1418.85,772.76 1423.41,773.08 1427.99,773.35 1432.57,773.57 1437.17,773.75 1441.78,773.87 1446.39,773.95 1451.00,773.97" fill="url(#sg8)" stroke="url(#sg8)" stroke-width="0.4"/>
<linearGradient id="sg9" gradientUnits="userSpaceOnUse" x1="1230.0" y1="0" x2="1264.8" y2="0"><stop offset="0" stop-color="#24509c"/><stop offset="1" stop-color="#1f4790"/></linearGradient>
<polygon points="1260.17,673.66 1258.03,671.90 1255.97,670.13 1253.99,668.35 1252.09,666.55 1250.27,664.74 1248.53,662.92 1246.87,661.10 1245.29,659.26 1243.79,657.42 1242.36,655.56 1241.02,653.71 1239.76,651.84 1238.58,649.97 1237.47,648.10 1236.45,646.23 1235.50,644.35 1234.63,642.47 1233.84,640.59 1233.12,638.71 1232.48,636.83 1231.92,634.95 1231.43,633.07 1231.02,631.19 1230.68,629.32 1230.41,627.45 1230.22,625.59 1230.09,623.73 1230.04,621.87 1230.07,620.02 1230.16,618.18 1230.32,616.35 1230.55,614.52 1230.84,612.71 1231.21,610.90 1231.63,609.10 1232.13,607.31 1232.69,605.53 1233.31,603.76 1234.00,602.00 1238.68,644.63 1238.03,646.48 1237.43,648.35 1236.90,650.24 1236.43,652.13 1236.03,654.03 1235.69,655.94 1235.41,657.86 1235.21,659.79 1235.07,661.72 1234.99,663.67 1234.99,665.62 1235.05,667.57 1235.19,669.54 1235.39,671.50 1235.67,673.47 1236.02,675.45 1236.44,677.43 1236.93,679.41 1237.50,681.39 1238.14,683.37 1238.86,685.35 1239.65,687.34 1240.51,689.32 1241.46,691.30 1242.47,693.27 1243.57,695.24 1244.74,697.21 1245.99,699.17 1247.31,701.13 1248.72,703.08 1250.20,705.02 1251.75,706.95 1253.39,708.87 1255.10,710.78 1256.89,712.69 1258.76,714.57 1260.71,716.45 1262.73,718.31 1264.84,720.16" fill="url(#sg9)" stroke="url(#sg9)" stroke-width="0.4"/>
<polygon points="1451.00,602.00 1451.00,518.02 1454.27,518.03 1457.54,518.07 1460.80,518.12 1464.07,518.20 1467.33,518.30 1470.59,518.43 1473.85,518.58 1477.10,518.75 1480.35,518.94 1483.59,519.15 1486.83,519.39 1490.07,519.65 1493.29,519.93 1496.51,520.24 1499.72,520.57 1502.92,520.92 1506.12,521.29 1509.30,521.69 1512.47,522.11 1515.64,522.55 1518.79,523.01" fill="#4366b3" stroke="#4366b3" stroke-width="0.6" stroke-linejoin="round"/>
<polygon points="1451.00,602.00 1518.79,523.01 1522.08,523.52 1525.37,524.06 1528.63,524.62 1531.89,525.20 1535.12,525.81 1538.35,526.45 1541.55,527.11 1544.73,527.79 1547.90,528.50 1551.05,529.24" fill="#a2a2a2" stroke="#a2a2a2" stroke-width="0.6" stroke-linejoin="round"/>
<polygon points="1451.00,602.00 1551.05,529.24 1554.03,529.96 1556.99,530.70 1559.93,531.47 1562.85,532.26 1565.74,533.07 1568.62,533.90 1571.47,534.76 1574.31,535.63 1577.11,536.53 1579.90,537.45 1582.65,538.39 1585.39,539.36 1588.09,540.35 1590.77,541.35 1593.42,542.38 1596.04,543.43 1598.63,544.51 1601.19,545.60 1603.72,546.72 1606.22,547.85 1608.69,549.01" fill="#5594d0" stroke="#5594d0" stroke-width="0.6" stroke-linejoin="round"/>
<polygon points="1451.00,602.00 1608.69,549.01 1611.07,550.16 1613.41,551.34 1615.73,552.53 1618.01,553.74 1620.25,554.98 1622.46,556.23 1624.63,557.50 1626.76,558.79 1628.86,560.10 1630.91,561.43 1632.93,562.77 1634.91,564.14 1636.84,565.53 1638.74,566.93 1640.59,568.35 1642.39,569.79 1644.15,571.24 1645.87,572.72 1647.54,574.21 1649.16,575.72 1650.73,577.24 1652.26,578.78 1653.73,580.34" fill="#223c78" stroke="#223c78" stroke-width="0.6" stroke-linejoin="round"/>
<polygon points="1451.00,602.00 1653.73,580.34 1655.19,581.95 1656.59,583.58 1657.93,585.22 1659.22,586.88 1660.46,588.55 1661.63,590.24 1662.75,591.94 1663.81,593.66 1664.81,595.39 1665.75,597.13 1666.62,598.89 1667.43,600.66 1668.18,602.45 1668.86,604.24 1669.48,606.05 1670.03,607.87 1670.52,609.70 1670.93,611.53" fill="#5c5c5c" stroke="#5c5c5c" stroke-width="0.6" stroke-linejoin="round"/>
<polygon points="1451.00,602.00 1670.93,611.53 1671.27,613.35 1671.54,615.17 1671.75,617.00 1671.88,618.83 1671.95,620.68 1671.95,622.53 1671.87,624.38 1671.72,626.24 1671.50,628.11 1671.21,629.98 1670.85,631.85 1670.41,633.73 1669.89,635.61 1669.30,637.49 1668.63,639.37 1667.89,641.25 1667.07,643.13 1666.17,645.01 1665.20,646.89 1664.15,648.76 1663.01,650.63 1661.80,652.50 1660.51,654.36 1659.14,656.22 1657.69,658.07 1656.17,659.91" fill="#2a5f9b" stroke="#2a5f9b" stroke-width="0.6" stroke-linejoin="round"/>
<polygon points="1451.00,602.00 1656.17,659.91 1654.52,661.78 1652.80,663.64 1650.99,665.49 1649.10,667.33 1647.13,669.15 1645.07,670.96 1642.93,672.76 1640.70,674.55 1638.40,676.31 1636.01,678.06 1633.54,679.80 1630.99,681.51 1628.36,683.20 1625.65,684.88 1622.86,686.53 1619.99,688.16 1617.04,689.76 1614.01,691.35" fill="#6186ca" stroke="#6186ca" stroke-width="0.6" stroke-linejoin="round"/>
<polygon points="1451.00,602.00 1614.01,691.35 1610.99,692.86 1607.89,694.35 1604.72,695.82 1601.49,697.26 1598.18,698.67 1594.81,700.05 1591.37,701.41 1587.86,702.73 1584.29,704.02 1580.65,705.28 1576.96,706.51 1573.20,707.70 1569.39,708.86 1565.52,709.99 1561.59,711.07 1557.61,712.13 1553.58,713.14 1549.49,714.12 1545.36,715.06 1541.18,715.96 1536.96,716.82 1532.69,717.63 1528.39,718.41 1524.04,719.15 1519.66,719.84 1515.24,720.50 1510.79,721.11 1506.31,721.67 1501.80,722.20 1497.27,722.67 1492.71,723.11 1488.13,723.50 1483.53,723.84 1478.91,724.14 1474.28,724.39 1469.64,724.60 1464.99,724.76 1460.33,724.87 1455.67,724.94 1451.00,724.97" fill="#c4c4c4" stroke="#c4c4c4" stroke-width="0.6" stroke-linejoin="round"/>
<polygon points="1451.00,602.00 1451.00,724.97 1446.26,724.94 1441.53,724.87 1436.80,724.75 1432.07,724.59 1427.36,724.37 1422.66,724.11 1417.98,723.80 1413.31,723.45 1408.66,723.05 1404.04,722.60 1399.43,722.11 1394.86,721.57 1390.32,720.99 1385.81,720.36 1381.33,719.69 1376.89,718.97 1372.48,718.21 1368.12,717.41 1363.80,716.57 1359.52,715.68 1355.30,714.76 1351.12,713.79 1346.99,712.79 1342.91,711.74 1338.89,710.66 1334.93,709.54 1331.02,708.38 1327.17,707.19 1323.38,705.96 1319.66,704.70 1316.00,703.41 1312.41,702.08 1308.88,700.72 1305.42,699.33 1302.03,697.91 1298.71,696.47 1295.46,694.99 1292.29,693.49 1289.19,691.96 1286.16,690.40 1283.21,688.82 1280.34,687.22 1277.54,685.59 1274.82,683.94 1272.18,682.28 1269.62,680.59 1267.14,678.88 1264.74,677.16 1262.41,675.41 1260.17,673.66" fill="#7aaddb" stroke="#7aaddb" stroke-width="0.6" stroke-linejoin="round"/>
<polygon points="1451.00,602.00 1260.17,673.66 1258.03,671.90 1255.96,670.12 1253.98,668.33 1252.07,666.53 1250.25,664.72 1248.51,662.90 1246.84,661.07 1245.26,659.23 1243.76,657.38 1242.34,655.53 1240.99,653.66 1239.73,651.80 1238.55,649.92 1237.44,648.05 1236.42,646.17 1235.47,644.29 1234.60,642.40 1233.81,640.52 1233.10,638.63 1232.46,636.75 1231.90,634.87 1231.41,632.98 1231.00,631.10 1230.66,629.23 1230.40,627.36 1230.21,625.49 1230.09,623.62 1230.04,621.77 1230.07,619.92 1230.16,618.07 1230.33,616.23 1230.56,614.41 1230.86,612.58 1231.23,610.77 1231.67,608.97 1232.17,607.18 1232.73,605.39 1233.36,603.62 1234.06,601.86 1234.81,600.11 1235.63,598.38 1236.51,596.65 1237.44,594.94 1238.44,593.24 1239.49,591.56 1240.60,589.89 1241.77,588.23 1242.99,586.59 1244.27,584.96 1245.60,583.35 1246.99,581.76 1248.42,580.18 1249.91,578.61 1251.45,577.07 1253.03,575.54 1254.67,574.02 1256.35,572.53 1258.08,571.05" fill="#2b4f9b" stroke="#2b4f9b" stroke-width="0.6" stroke-linejoin="round"/>
<polygon points="1451.00,602.00 1258.08,571.05 1259.86,569.59 1261.68,568.15 1263.54,566.72 1265.45,565.31 1267.40,563.93 1269.39,562.56 1271.42,561.21 1273.50,559.87 1275.61,558.56 1277.76,557.27 1279.95,556.00 1282.17,554.74 1284.43,553.51 1286.73,552.29 1289.06,551.10 1291.42,549.92 1293.82,548.77 1296.25,547.64 1298.71,546.52 1301.20,545.43 1303.72,544.36 1306.27,543.31 1308.85,542.28 1311.46,541.27 1314.09,540.28 1316.75,539.31 1319.44,538.36 1322.15,537.44 1324.89,536.53" fill="#858585" stroke="#858585" stroke-width="0.6" stroke-linejoin="round"/>
<polygon points="1451.00,602.00 1324.89,536.53 1327.66,535.64 1330.46,534.78 1333.28,533.93 1336.12,533.11 1338.98,532.31 1341.86,531.53 1344.76,530.77 1347.68,530.03 1350.62,529.31 1353.58,528.62 1356.56,527.95 1359.55,527.30 1362.56,526.67 1365.58,526.07 1368.62,525.48 1371.67,524.92 1374.74,524.38 1377.82,523.86 1380.91,523.36 1384.02,522.89 1387.14,522.44 1390.26,522.01 1393.40,521.60 1396.55,521.21 1399.70,520.85 1402.87,520.51 1406.04,520.19 1409.22,519.89 1412.41,519.61 1415.60,519.36 1418.80,519.13 1422.01,518.92 1425.21,518.73 1428.43,518.56 1431.65,518.42 1434.87,518.30 1438.09,518.20 1441.32,518.12 1444.54,518.07 1447.77,518.03 1451.00,518.02" fill="#2f72b8" stroke="#2f72b8" stroke-width="0.6" stroke-linejoin="round"/>
<polygon points="1451.00,518.02 1452.59,518.02 1454.19,518.03 1455.78,518.05 1457.37,518.06 1458.97,518.09 1460.56,518.12 1462.15,518.15 1463.74,518.19 1465.33,518.24 1466.92,518.29 1468.51,518.35 1470.10,518.41 1471.69,518.48 1473.28,518.55 1474.87,518.63 1476.45,518.71 1478.04,518.80 1479.62,518.89 1481.20,518.99 1482.78,519.10 1484.36,519.21 1485.94,519.32 1487.52,519.44 1489.10,519.57 1490.67,519.70 1492.24,519.84 1493.81,519.98 1495.38,520.13 1496.95,520.28 1498.52,520.44 1500.08,520.61 1501.64,520.78 1503.20,520.95 1504.76,521.13 1506.31,521.32 1507.87,521.51 1509.42,521.70 1510.97,521.91 1512.51,522.11 1514.06,522.32 1515.60,522.54 1517.13,522.77 1518.67,522.99 1520.20,523.23 1521.73,523.47 1523.26,523.71 1524.78,523.96 1526.30,524.22 1527.82,524.48 1529.33,524.74 1530.84,525.01 1532.35,525.29 1533.86,525.57 1535.36,525.86 1536.85,526.15 1538.35,526.45 1539.84,526.75 1541.32,527.06 1542.80,527.38 1544.28,527.69 1545.75,528.02 1547.22,528.35 1548.69,528.68 1550.15,529.02 1551.61,529.37 1553.06,529.72 1554.51,530.08 1555.95,530.44 1557.39,530.81 1558.83,531.18 1560.26,531.56 1561.68,531.94 1563.10,532.33 1564.51,532.72 1565.92,533.12 1567.33,533.52 1568.73,533.93 1570.12,534.35 1571.51,534.77 1572.89,535.19 1574.27,535.62 1575.64,536.06 1577.01,536.50 1578.37,536.94 1579.72,537.39 1581.07,537.85 1582.41,538.31 1583.75,538.78 1585.08,539.25 1586.40,539.73 1587.72,540.21 1589.03,540.70 1590.34,541.19 1591.63,541.69 1592.92,542.19 1594.21,542.70 1595.49,543.21 1596.76,543.73 1598.02,544.25 1599.28,544.78 1600.52,545.31 1601.77,545.85 1603.00,546.39 1604.23,546.94 1605.44,547.50 1606.66,548.06 1607.86,548.62 1609.05,549.19 1610.24,549.76 1611.42,550.34 1612.59,550.92 1613.75,551.51 1614.91,552.11 1616.06,552.70 1617.19,553.31 1618.32,553.91 1619.44,554.53 1620.55,555.15 1621.66,555.77 1622.75,556.40 1623.83,557.03 1624.91,557.67 1625.97,558.31 1627.03,558.95 1628.08,559.61 1629.11,560.26 1630.14,560.92 1631.16,561.59 1632.17,562.26 1633.16,562.93 1634.15,563.61 1635.13,564.30 1636.10,564.99 1637.05,565.68 1638.00,566.38 1638.94,567.08 1639.86,567.79 1640.77,568.50 1641.68,569.21 1642.57,569.93 1643.45,570.66 1644.32,571.39 1645.18,572.12 1646.03,572.86 1646.86,573.60 1647.68,574.34 1648.50,575.09 1649.30,575.85 1650.08,576.61 1650.86,577.37 1651.62,578.14 1652.38,578.91 1653.12,579.68 1653.84,580.46 1654.56,581.25 1655.26,582.03 1655.95,582.82 1656.62,583.62 1657.28,584.42 1657.93,585.22 1658.57,586.02 1659.19,586.83 1659.80,587.65 1660.40,588.47 1660.98,589.29 1661.55,590.11 1662.10,590.94 1662.64,591.77 1663.17,592.60 1663.68,593.44 1664.18,594.28 1664.66,595.13 1665.13,595.98 1665.59,596.83 1666.03,597.68 1666.45,598.54 1666.86,599.40 1667.26,600.26 1667.64,601.13 1668.00,602.00 1668.35,602.87 1668.68,603.75 1669.00,604.63 1669.30,605.51 1669.59,606.39 1669.86,607.28 1670.12,608.16 1670.35,609.05 1670.58,609.95 1670.78,610.84 1670.97,611.74 1671.15,612.64 1671.30,613.54 1671.44,614.45 1671.57,615.35 1671.67,616.26 1671.76,617.17 1671.84,618.09 1671.89,619.00 1671.93,619.92 1671.95,620.83 1671.96,621.75 1671.94,622.67 1671.91,623.60 1671.86,624.52 1671.80,625.44 1671.71,626.37 1671.61,627.30 1671.49,628.22 1671.35,629.15 1671.19,630.08 1671.02,631.02 1670.83,631.95 1670.62,632.88 1670.39,633.81 1670.14,634.75 1669.87,635.68 1669.58,636.61 1669.28,637.55 1668.96,638.48 1668.62,639.42 1668.26,640.35 1667.88,641.29 1667.48,642.22 1667.06,643.16 1666.62,644.09 1666.17,645.03 1665.69,645.96 1665.20,646.89 1664.68,647.83 1664.15,648.76 1663.60,649.69 1663.02,650.62 1662.43,651.55 1661.82,652.47 1661.19,653.40 1660.54,654.32 1659.87,655.25 1659.18,656.17 1658.47,657.09 1657.74,658.01 1656.99,658.92 1656.23,659.84 1655.44,660.75 1654.63,661.66 1653.80,662.57 1652.95,663.48 1652.09,664.38 1651.20,665.28 1650.29,666.18 1649.37,667.07 1648.42,667.97 1647.45,668.86 1646.47,669.74 1645.46,670.63 1644.43,671.50 1643.39,672.38 1642.32,673.25 1641.24,674.12 1640.14,674.99 1639.01,675.85 1637.87,676.71 1636.71,677.56 1635.52,678.41 1634.32,679.26 1633.10,680.10 1631.86,680.93 1630.60,681.77 1629.32,682.59 1628.03,683.42 1626.71,684.23 1625.37,685.04 1624.02,685.85 1622.64,686.65 1621.25,687.45 1619.84,688.24 1618.41,689.03 1616.96,689.80 1615.50,690.58 1614.01,691.35 1612.51,692.11 1610.99,692.86 1609.45,693.61 1607.89,694.35 1606.32,695.09 1604.72,695.82 1603.11,696.54 1601.49,697.26 1599.84,697.97 1598.18,698.67 1596.50,699.37 1594.81,700.05 1593.09,700.73 1591.37,701.41 1589.62,702.07 1587.86,702.73 1586.08,703.38 1584.29,704.02 1582.48,704.65 1580.65,705.28 1578.81,705.90 1576.96,706.51 1575.09,707.11 1573.20,707.70 1571.30,708.29 1569.39,708.86 1567.46,709.43 1565.52,709.99 1563.56,710.53 1561.59,711.07 1559.61,711.60 1557.61,712.13 1555.60,712.64 1553.58,713.14 1551.54,713.63 1549.49,714.12 1547.43,714.59 1545.36,715.06 1543.28,715.51 1541.18,715.96 1539.08,716.39 1536.96,716.82 1534.83,717.23 1532.69,717.63 1530.55,718.03 1528.39,718.41 1526.22,718.79 1524.04,719.15 1521.85,719.50 1519.66,719.84 1517.45,720.18 1515.24,720.50 1513.02,720.81 1510.79,721.11 1508.55,721.40 1506.31,721.67 1504.06,721.94 1501.80,722.20 1499.54,722.44 1497.27,722.67 1494.99,722.90 1492.71,723.11 1490.42,723.31 1488.13,723.50 1485.83,723.67 1483.53,723.84 1481.22,723.99 1478.91,724.14 1476.60,724.27 1474.28,724.39 1471.96,724.50 1469.64,724.60 1467.32,724.68 1464.99,724.76 1462.66,724.82 1460.33,724.87 1458.00,724.92 1455.67,724.94 1453.33,724.96 1451.00,724.97 1448.67,724.96 1446.33,724.94 1444.00,724.92 1441.67,724.87 1439.34,724.82 1437.01,724.76 1434.68,724.68 1432.36,724.60 1430.04,724.50 1427.72,724.39 1425.40,724.27 1423.09,724.14 1420.78,723.99 1418.47,723.84 1416.17,723.67 1413.87,723.50 1411.58,723.31 1409.29,723.11 1407.01,722.90 1404.73,722.67 1402.46,722.44 1400.20,722.20 1397.94,721.94 1395.69,721.67 1393.45,721.40 1391.21,721.11 1388.98,720.81 1386.76,720.50 1384.55,720.18 1382.34,719.84 1380.15,719.50 1377.96,719.15 1375.78,718.79 1373.61,718.41 1371.45,718.03 1369.31,717.63 1367.17,717.23 1365.04,716.82 1362.92,716.39 1360.82,715.96 1358.72,715.51 1356.64,715.06 1354.57,714.59 1352.51,714.12 1350.46,713.63 1348.42,713.14 1346.40,712.64 1344.39,712.13 1342.39,711.60 1340.41,711.07 1338.44,710.53 1336.48,709.99 1334.54,709.43 1332.61,708.86 1330.70,708.29 1328.80,707.70 1326.91,707.11 1325.04,706.51 1323.19,705.90 1321.35,705.28 1319.52,704.65 1317.71,704.02 1315.92,703.38 1314.14,702.73 1312.38,702.07 1310.63,701.41 1308.91,700.73 1307.19,700.05 1305.50,699.37 1303.82,698.67 1302.16,697.97 1300.51,697.26 1298.89,696.54 1297.28,695.82 1295.68,695.09 1294.11,694.35 1292.55,693.61 1291.01,692.86 1289.49,692.11 1287.99,691.35 1286.50,690.58 1285.04,689.80 1283.59,689.03 1282.16,688.24 1280.75,687.45 1279.36,686.65 1277.98,685.85 1276.63,685.04 1275.29,684.23 1273.97,683.42 1272.68,682.59 1271.40,681.77 1270.14,680.93 1268.90,680.10 1267.68,679.26 1266.48,678.41 1265.29,677.56 1264.13,676.71 1262.99,675.85 1261.86,674.99 1260.76,674.12 1259.68,673.25 1258.61,672.38 1257.57,671.50 1256.54,670.63 1255.53,669.74 1254.55,668.86 1253.58,667.97 1252.63,667.07 1251.71,666.18 1250.80,665.28 1249.91,664.38 1249.05,663.48 1248.20,662.57 1247.37,661.66 1246.56,660.75 1245.77,659.84 1245.01,658.92 1244.26,658.01 1243.53,657.09 1242.82,656.17 1242.13,655.25 1241.46,654.32 1240.81,653.40 1240.18,652.47 1239.57,651.55 1238.98,650.62 1238.40,649.69 1237.85,648.76 1237.32,647.83 1236.80,646.89 1236.31,645.96 1235.83,645.03 1235.38,644.09 1234.94,643.16 1234.52,642.22 1234.12,641.29 1233.74,640.35 1233.38,639.42 1233.04,638.48 1232.72,637.55 1232.42,636.61 1232.13,635.68 1231.86,634.75 1231.61,633.81 1231.38,632.88 1231.17,631.95 1230.98,631.02 1230.81,630.08 1230.65,629.15 1230.51,628.22 1230.39,627.30 1230.29,626.37 1230.20,625.44 1230.14,624.52 1230.09,623.60 1230.06,622.67 1230.04,621.75 1230.05,620.83 1230.07,619.92 1230.11,619.00 1230.16,618.09 1230.24,617.17 1230.33,616.26 1230.43,615.35 1230.56,614.45 1230.70,613.54 1230.85,612.64 1231.03,611.74 1231.22,610.84 1231.42,609.95 1231.65,609.05 1231.88,608.16 1232.14,607.28 1232.41,606.39 1232.70,605.51 1233.00,604.63 1233.32,603.75 1233.65,602.87 1234.00,602.00 1234.36,601.13 1234.74,600.26 1235.14,599.40 1235.55,598.54 1235.97,597.68 1236.41,596.83 1236.87,595.98 1237.34,595.13 1237.82,594.28 1238.32,593.44 1238.83,592.60 1239.36,591.77 1239.90,590.94 1240.45,590.11 1241.02,589.29 1241.60,588.47 1242.20,587.65 1242.81,586.83 1243.43,586.02 1244.07,585.22 1244.72,584.42 1245.38,583.62 1246.05,582.82 1246.74,582.03 1247.44,581.25 1248.16,580.46 1248.88,579.68 1249.62,578.91 1250.38,578.14 1251.14,577.37 1251.92,576.61 1252.70,575.85 1253.50,575.09 1254.32,574.34 1255.14,573.60 1255.97,572.86 1256.82,572.12 1257.68,571.39 1258.55,570.66 1259.43,569.93 1260.32,569.21 1261.23,568.50 1262.14,567.79 1263.06,567.08 1264.00,566.38 1264.95,565.68 1265.90,564.99 1266.87,564.30 1267.85,563.61 1268.84,562.93 1269.83,562.26 1270.84,561.59 1271.86,560.92 1272.89,560.26 1273.92,559.61 1274.97,558.95 1276.03,558.31 1277.09,557.67 1278.17,557.03 1279.25,556.40 1280.34,555.77 1281.45,555.15 1282.56,554.53 1283.68,553.91 1284.81,553.31 1285.94,552.70 1287.09,552.11 1288.25,551.51 1289.41,550.92 1290.58,550.34 1291.76,549.76 1292.95,549.19 1294.14,548.62 1295.34,548.06 1296.56,547.50 1297.77,546.94 1299.00,546.39 1300.23,545.85 1301.48,545.31 1302.72,544.78 1303.98,544.25 1305.24,543.73 1306.51,543.21 1307.79,542.70 1309.08,542.19 1310.37,541.69 1311.66,541.19 1312.97,540.70 1314.28,540.21 1315.60,539.73 1316.92,539.25 1318.25,538.78 1319.59,538.31 1320.93,537.85 1322.28,537.39 1323.63,536.94 1324.99,536.50 1326.36,536.06 1327.73,535.62 1329.11,535.19 1330.49,534.77 1331.88,534.35 1333.27,533.93 1334.67,533.52 1336.08,533.12 1337.49,532.72 1338.90,532.33 1340.32,531.94 1341.74,531.56 1343.17,531.18 1344.61,530.81 1346.05,530.44 1347.49,530.08 1348.94,529.72 1350.39,529.37 1351.85,529.02 1353.31,528.68 1354.78,528.35 1356.25,528.02 1357.72,527.69 1359.20,527.38 1360.68,527.06 1362.16,526.75 1363.65,526.45 1365.15,526.15 1366.64,525.86 1368.14,525.57 1369.65,525.29 1371.16,525.01 1372.67,524.74 1374.18,524.48 1375.70,524.22 1377.22,523.96 1378.74,523.71 1380.27,523.47 1381.80,523.23 1383.33,522.99 1384.87,522.77 1386.40,522.54 1387.94,522.32 1389.49,522.11 1391.03,521.91 1392.58,521.70 1394.13,521.51 1395.69,521.32 1397.24,521.13 1398.80,520.95 1400.36,520.78 1401.92,520.61 1403.48,520.44 1405.05,520.28 1406.62,520.13 1408.19,519.98 1409.76,519.84 1411.33,519.70 1412.90,519.57 1414.48,519.44 1416.06,519.32 1417.64,519.21 1419.22,519.10 1420.80,518.99 1422.38,518.89 1423.96,518.80 1425.55,518.71 1427.13,518.63 1428.72,518.55 1430.31,518.48 1431.90,518.41 1433.49,518.35 1435.08,518.29 1436.67,518.24 1438.26,518.19 1439.85,518.15 1441.44,518.12 1443.03,518.09 1444.63,518.06 1446.22,518.05 1447.81,518.03 1449.41,518.02 1451.00,518.02" fill="url(#topshade)"/>
<g transform="translate(1351.0,488.5) scale(0.83,1)"><text x="0" y="0" font-size="19.5" fill="#525252" text-anchor="middle">$1M+</text><text x="0" y="22" font-size="19.5" fill="#525252" text-anchor="middle">12%</text></g>
<g transform="translate(1478.6,486.0) scale(0.83,1)"><text x="0" y="0" font-size="19.5" fill="#525252" text-anchor="middle">0-$150K</text><text x="0" y="22" font-size="19.5" fill="#525252" text-anchor="middle">6%</text></g>
<g transform="translate(1600.5,495.0) scale(0.83,1)"><text x="0" y="0" font-size="19.5" fill="#525252" text-anchor="middle">$150-200K</text><text x="0" y="22" font-size="19.5" fill="#525252" text-anchor="middle">3%</text></g>
<g transform="translate(1743.3,505.6) scale(0.83,1)"><text x="0" y="0" font-size="19.5" fill="#525252" text-anchor="middle">200K-$250K</text><text x="0" y="22" font-size="19.5" fill="#525252" text-anchor="middle">6%</text></g>
<g transform="translate(1743.3,573.0) scale(0.83,1)"><text x="0" y="0" font-size="19.5" fill="#525252" text-anchor="middle">$250K-300K</text><text x="0" y="22" font-size="19.5" fill="#525252" text-anchor="middle">7%</text></g>
<g transform="translate(1738.8,624.0) scale(0.83,1)"><text x="0" y="0" font-size="19.5" fill="#525252" text-anchor="middle">$300K-$350K</text><text x="0" y="22" font-size="19.5" fill="#525252" text-anchor="middle">5%</text></g>
<g transform="translate(1738.0,703.6) scale(0.83,1)"><text x="0" y="0" font-size="19.5" fill="#525252" text-anchor="middle">$350K-$400K</text><text x="0" y="22" font-size="19.5" fill="#525252" text-anchor="middle">7%</text></g>
<g transform="translate(1738.8,750.0) scale(0.83,1)"><text x="0" y="0" font-size="19.5" fill="#525252" text-anchor="middle">$400K-$450K</text><text x="0" y="22" font-size="19.5" fill="#525252" text-anchor="middle">5%</text></g>
<g transform="translate(1597.0,817.0) scale(0.83,1)"><text x="0" y="0" font-size="19.5" fill="#525252" text-anchor="middle">$450K-$500K</text><text x="0" y="22" font-size="19.5" fill="#525252" text-anchor="middle">11%</text></g>
<g transform="translate(1267.5,796.5) scale(0.83,1)"><text x="0" y="0" font-size="19.5" fill="#525252" text-anchor="middle">$500K-$600K</text><text x="0" y="22" font-size="19.5" fill="#525252" text-anchor="middle">14%</text></g>
<g transform="translate(1164.5,672.3) scale(0.83,1)"><text x="0" y="0" font-size="19.5" fill="#525252" text-anchor="middle">$600K-$800K</text><text x="0" y="22" font-size="19.5" fill="#525252" text-anchor="middle">16%</text></g>
<g transform="translate(1226.3,538.5) scale(0.83,1)"><text x="0" y="0" font-size="19.5" fill="#525252" text-anchor="middle">$800K-$1M</text><text x="0" y="22" font-size="19.5" fill="#525252" text-anchor="middle">8%</text></g>
<polyline points="1536.00,526.00 1540.00,494.00 1555.00,494.00" fill="none" stroke="#a3a3a3" stroke-width="2.4" stroke-linejoin="miter"/>
<polyline points="1582.00,537.60 1677.00,505.00 1691.00,505.00" fill="none" stroke="#a3a3a3" stroke-width="2.4" stroke-linejoin="miter"/>
<polyline points="1635.60,564.00 1678.00,573.00 1691.00,573.00" fill="none" stroke="#a3a3a3" stroke-width="2.4" stroke-linejoin="miter"/>
<polyline points="1666.00,597.00 1668.00,624.00 1681.00,624.00" fill="none" stroke="#a3a3a3" stroke-width="2.4" stroke-linejoin="miter"/>
<polyline points="1664.00,683.60 1667.00,703.00 1681.60,703.00" fill="none" stroke="#a3a3a3" stroke-width="2.4" stroke-linejoin="miter"/>
<polyline points="1633.00,725.00 1668.00,750.60 1681.60,750.60" fill="none" stroke="#a3a3a3" stroke-width="2.4" stroke-linejoin="miter"/>
<polyline points="1538.00,766.00 1543.00,810.00" fill="none" stroke="#a3a3a3" stroke-width="2.4" stroke-linejoin="miter"/>
<polyline points="1343.50,761.00 1337.00,795.50 1322.00,795.50" fill="none" stroke="#a3a3a3" stroke-width="2.4" stroke-linejoin="miter"/>
<polyline points="1221.70,672.00 1236.40,672.00 1236.40,667.00" fill="none" stroke="#a3a3a3" stroke-width="2.4" stroke-linejoin="miter"/>
</svg>
</body></html>
